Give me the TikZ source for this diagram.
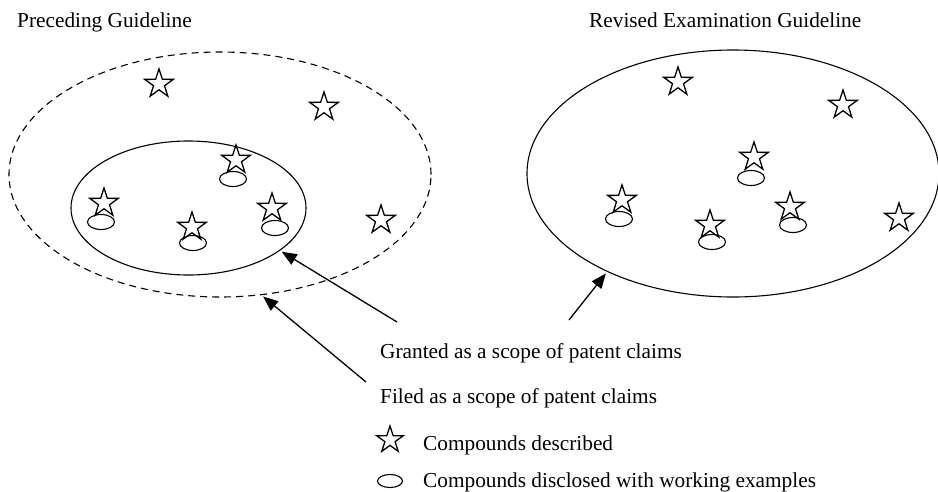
\documentclass[tikz,border=0pt]{standalone}
\usepackage{fontspec}
\setmainfont{Liberation Serif}
\usetikzlibrary{shapes.geometric,arrows.meta}
\begin{document}
\begin{tikzpicture}[x=1pt,y=-1pt,
  cmpd/.style={star,star points=5,star point ratio=2.6,draw,line width=1.3pt,minimum size=30pt,inner sep=0pt},
  wex/.style={ellipse,draw,line width=1.1pt,minimum width=27pt,minimum height=15pt,inner sep=0pt},
  areabox/.style={ellipse,draw,line width=1.1pt,inner sep=0pt},
  lbl/.style={anchor=base west,inner sep=0pt,font=\fontsize{21.3}{25}\selectfont},
  pointer/.style={line width=1.3pt,-{Triangle[length=15pt,width=12pt]},shorten >=2pt}
]
\useasboundingbox (0,0) rectangle (938,491);

% titles
\node[lbl] (t1) at (17,27) {Preceding Guideline};
\node[lbl] (t2) at (589,27) {Revised Examination Guideline};

% left: filed (dashed) and granted (solid)
\node[areabox,dashed,dash pattern=on 7pt off 5pt,minimum width=422pt,minimum height=245pt] (filed) at (220,174.5) {};
\node[areabox,minimum width=235pt,minimum height=134pt] (granted) at (188.5,208) {};

% right: revised
\node[areabox,minimum width=412pt,minimum height=247pt] (revised) at (733,173.5) {};

% left working-example ellipses
\node[wex] (le1) at (233,179) {};
\node[wex] (le2) at (101,222) {};
\node[wex] (le3) at (193,243) {};
\node[wex] (le4) at (275,228) {};
% left stars
\node[cmpd] (ls1) at (159,84) {};
\node[cmpd] (ls2) at (324,107) {};
\node[cmpd] (ls3) at (236,160) {};
\node[cmpd] (ls4) at (104,203) {};
\node[cmpd] (ls5) at (192,227) {};
\node[cmpd] (ls6) at (272,208) {};
\node[cmpd] (ls7) at (381,220) {};

% right working-example ellipses
\node[wex] (re1) at (751,178) {};
\node[wex] (re2) at (619,219) {};
\node[wex] (re3) at (712,242) {};
\node[wex] (re4) at (793,225) {};
% right stars
\node[cmpd] (rs1) at (678,82) {};
\node[cmpd] (rs2) at (843,105) {};
\node[cmpd] (rs3) at (754,157) {};
\node[cmpd] (rs4) at (622,200) {};
\node[cmpd] (rs5) at (710,225) {};
\node[cmpd] (rs6) at (790,207) {};
\node[cmpd] (rs7) at (899,218) {};

% labels
\node[lbl] (g) at (380,358) {Granted as a scope of patent claims};
\node[lbl] (f) at (380,403) {Filed as a scope of patent claims};

% legend
\node[cmpd,minimum size=28pt] (legstar) at (390,440) {};
\node[lbl] (legt1) at (423,450) {Compounds described};
\node[wex,minimum width=25pt,minimum height=13pt] (legell) at (390,481) {};
\node[lbl] (legt2) at (423,487) {Compounds disclosed with working examples};

% arrows
\coordinate (a1) at (397,322);
\coordinate (a2) at (366,382);
\coordinate (a3) at (569,320);
\draw[pointer] (a1) -- (granted.-25);
\draw[pointer] (a2) -- (filed.-71.5);
\draw[pointer] (a3) -- (revised.-142);
\end{tikzpicture}
\end{document}
